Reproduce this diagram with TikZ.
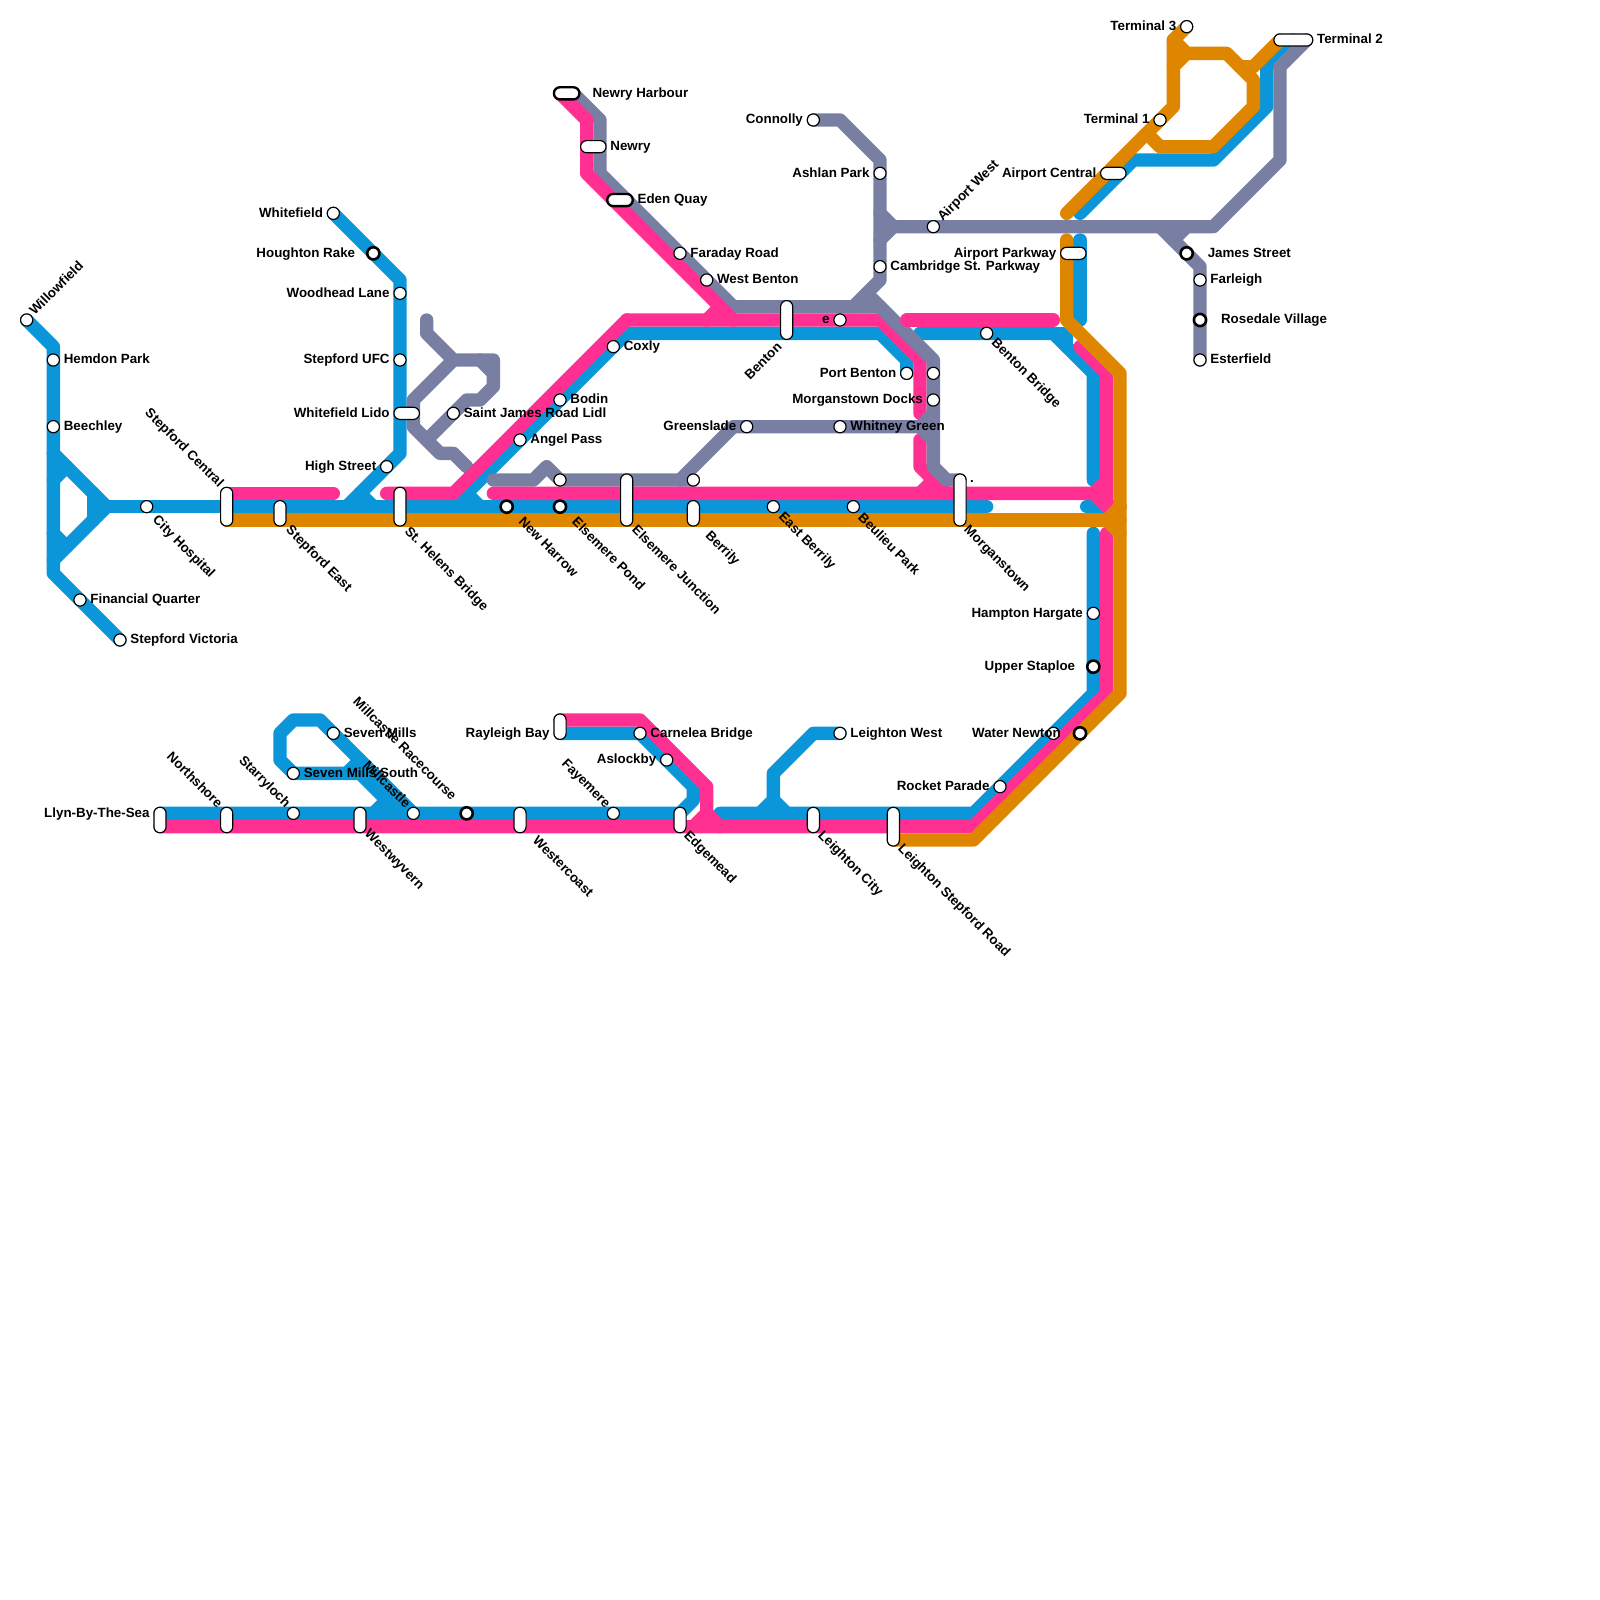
\documentclass[tikz,border=0pt]{standalone}
\usepackage{fontspec}
\setmainfont{Liberation Sans}
\usetikzlibrary{backgrounds}
\definecolor{lineblue}{HTML}{0A96D8}
\definecolor{linepink}{HTML}{FF3092}
\definecolor{linegrey}{HTML}{787FA3}
\definecolor{lineorange}{HTML}{DF8600}
\tikzset{
  railline/.style={line width=11.38pt, line cap=round, line join=round},
  blueline/.style={railline, draw=lineblue},
  pinkline/.style={railline, draw=linepink},
  greyline/.style={railline, draw=linegrey},
  orangeline/.style={railline, draw=lineorange},
  stn/.style={circle, draw, fill=white, inner sep=0pt, minimum size=10.4pt, line width=1pt},
  stnbold/.style={circle, draw, fill=white, inner sep=0pt, minimum size=10.4pt, line width=2.2pt},
  pill/.style 2 args={rectangle, draw, fill=white, rounded corners=5.1pt, inner sep=0pt, line width=1pt,
    minimum width=#1*11.38pt-1pt, minimum height=#2*11.38pt-1pt},
  pillbold/.style 2 args={pill={#1}{#2}, line width=2pt},
  lbl/.style={inner sep=0pt, text height=6.5pt, text depth=0pt, font=\bfseries\fontsize{11.4}{13}\selectfont, text=black},
  label distance=3pt,
  txtse/.style={lbl, rotate=-45, anchor=west},
  txtnw/.style={lbl, rotate=-45, anchor=east},
  txtne/.style={lbl, rotate=45, anchor=west},
  txtsw/.style={lbl, rotate=45, anchor=east}
}
\begin{document}
\begin{tikzpicture}[x=.4cm, y=-.4cm]
\useasboundingbox (0,0) rectangle (120,120);
\node[stn] (willowfield) at (2,24) {};
\node[stn, label={[lbl]right:Hemdon Park}] (hemdon) at (4,27) {};
\node[stn, label={[lbl]right:Beechley}] (beechley) at (4,32) {};
\node[stn, label={[lbl]right:Financial Quarter}] (financial) at (6,45) {};
\node[stn, label={[lbl]right:Stepford Victoria}] (stepfordvictoria) at (9,48) {};
\node[stn] (cityhospital) at (11,38) {};
\node[pill={1}{3}] (stepfordcentral) at (17,38) {};
\node[pill={1}{2}] (stepfordeast) at (21,38.5) {};
\node[pill={1}{3}] (sthelens) at (30,38) {};
\node[stn, label={[lbl]left:Whitefield}] (whitefield) at (25,16) {};
\node[stnbold, label={[lbl, label distance=9pt]left:Houghton Rake}] (houghton) at (28,19) {};
\node[stn, label={[lbl]left:Woodhead Lane}] (woodhead) at (30,22) {};
\node[stn, label={[lbl]left:Stepford UFC}] (stepfordufc) at (30,27) {};
\node[pill={2}{1}, label={[lbl]left:Whitefield Lido}] (lido) at (30.5,31) {};
\node[stn, label={[lbl]left:High Street}] (highstreet) at (29,35) {};
\node[stn, label={[lbl]right:Saint James Road Lidl}] (saintjames) at (34,31) {};
\node[stnbold] (newharrow) at (38,38) {};
\node[stnbold] (elsemerepond) at (42,38) {};
\node[stn] (elsemeretop) at (42,36) {};
\node[pill={1}{4}] (elsemerejunction) at (47,37.5) {};
\node[stn] (berrilytop) at (52,36) {};
\node[pill={1}{2}] (berrily) at (52,38.5) {};
\node[stn] (eastberrily) at (58,38) {};
\node[stn] (beulieu) at (64,38) {};
\node[pill={1}{4}] (morganstown) at (72,37.5) {};
\node[stn, label={[lbl]right:Angel Pass}] (angelpass) at (39,33) {};
\node[stn, label={[lbl]right:Bodin}] (bodin) at (42,30) {};
\node[stn, label={[lbl]right:Coxly}] (coxly) at (46,26) {};
\node[pillbold={2}{1}, label={[lbl, label distance=10pt]right:Newry Harbour}] (newryharbour) at (42.5,7) {};
\node[pill={2}{1}, label={[lbl]right:Newry}] (newry) at (44.5,11) {};
\node[pillbold={2}{1}, label={[lbl]right:Eden Quay}] (edenquay) at (46.5,15) {};
\node[stn, label={[lbl]right:Faraday Road}] (faraday) at (51,19) {};
\node[stn, label={[lbl]right:West Benton}] (westbenton) at (53,21) {};
\node[pill={1}{3}] (benton) at (59,24) {};
\node[stn, label={[lbl]left:e}] (estation) at (63,24) {};
\node[stn, label={[lbl]left:Connolly}] (connolly) at (61,9) {};
\node[stn, label={[lbl]left:Ashlan Park}] (ashlan) at (66,13) {};
\node[stn, label={[lbl]right:Cambridge St. Parkway}] (cambridge) at (66,20) {};
\node[stn] (airportwest) at (70,17) {};
\node[stn, label={[lbl]left:Port Benton}] (portbenton) at (68,28) {};
\node[stn] (greytop) at (70,28) {};
\node[stn, label={[lbl]left:Morganstown Docks}] (docks) at (70,30) {};
\node[stn, label={[lbl]left:Greenslade}] (greenslade) at (56,32) {};
\node[stn, label={[lbl]right:Whitney Green}] (whitney) at (63,32) {};
\node[stn] (bentonbridge) at (74,25) {};
\node[pill={2}{1}, label={[lbl]left:Airport Parkway}] (airportparkway) at (80.5,19) {};
\node[pill={2}{1}, label={[lbl]left:Airport Central}] (airportcentral) at (83.5,13) {};
\node[stn, label={[lbl]left:Terminal 1}] (terminalone) at (87,9) {};
\node[stn, label={[lbl]left:Terminal 3}] (terminalthree) at (89,2) {};
\node[pill={3}{1}, label={[lbl]right:Terminal 2}] (terminaltwo) at (97,3) {};
\node[stnbold, label={[lbl, label distance=11.5pt]right:James Street}] (jamesstreet) at (89,19) {};
\node[stn, label={[lbl]right:Farleigh}] (farleigh) at (90,21) {};
\node[stnbold, label={[lbl, label distance=11.5pt]right:Rosedale Village}] (rosedale) at (90,24) {};
\node[stn, label={[lbl]right:Esterfield}] (esterfield) at (90,27) {};
\node[stn, label={[lbl]left:Hampton Hargate}] (hampton) at (82,46) {};
\node[stnbold, label={[lbl, label distance=9pt]left:Upper Staploe}] (upperstaploe) at (82,50) {};
\node[stn, label={[lbl, xshift=15.2pt]left:Water Newton}] (waternewton) at (79,55) {};
\node[stnbold] (waterbold) at (81,55) {};
\node[stn, label={[lbl]left:Rocket Parade}] (rocketparade) at (75,59) {};
\node[pill={1}{2}, label={[lbl, yshift=5.7pt]left:Llyn-By-The-Sea}] (llyn) at (12,61.5) {};
\node[pill={1}{2}] (northshore) at (17,61.5) {};
\node[stn] (starryloch) at (22,61) {};
\node[pill={1}{2}] (westwyvern) at (27,61.5) {};
\node[stn] (millcastle) at (31,61) {};
\node[stnbold] (racecourse) at (35,61) {};
\node[pill={1}{2}] (westercoast) at (39,61.5) {};
\node[stn] (fayemere) at (46,61) {};
\node[pill={1}{2}] (edgemead) at (51,61.5) {};
\node[pill={1}{2}] (leightoncity) at (61,61.5) {};
\node[pill={1}{3}] (leightonstepford) at (67,62) {};
\node[stn, label={[lbl]right:Seven Mills}] (sevenmills) at (25,55) {};
\node[stn, label={[lbl]right:Seven Mills South}] (sevensouth) at (22,58) {};
\node[pill={1}{2}, label={[lbl, yshift=-5.7pt]left:Rayleigh Bay}] (rayleigh) at (42,54.5) {};
\node[stn, label={[lbl]right:Carnelea Bridge}] (carnelea) at (48,55) {};
\node[stn, label={[lbl]left:Aslockby}] (aslockby) at (50,57) {};
\node[stn, label={[lbl]right:Leighton West}] (leightonwest) at (63,55) {};
\node[txtne] (willowfieldt) at (2.4,23.5) {Willowfield};
\node[txtne] (airportwestt) at (70.5,16.45) {Airport West};
\node[txtsw] (bentont) at (58.5,25.9) {Benton};
\node[txtnw] (stepfordcentralt) at (16.6,36.4) {Stepford Central};
\node[txtnw] (northshoret) at (16.5,60.45) {Northshore};
\node[txtnw] (starrylocht) at (21.6,60.4) {Starryloch};
\node[txtnw] (millcastlet) at (30.6,60.45) {Millcastle};
\node[txtnw] (racecourset) at (34.05,59.9) {Millcastle Racecourse};
\node[txtnw] (fayemeret) at (45.6,60.45) {Fayemere};
\node[txtse] (cityhospitalt) at (11.6,38.85) {City Hospital};
\node[txtse] (stepfordeastt) at (21.6,39.6) {Stepford East};
\node[txtse] (sthelenst) at (30.5,39.7) {St. Helens Bridge};
\node[txtse] (newharrowt) at (39.05,39) {New Harrow};
\node[txtse] (elsemerepondt) at (43.05,39) {Elsemere Pond};
\node[txtse] (elsemerejunctiont) at (47.55,39.6) {Elsemere Junction};
\node[txtse] (berrilyt) at (53.05,40) {Berrily};
\node[txtse] (eastberrilyt) at (58.55,38.6) {East Berrily};
\node[txtse] (beulieut) at (64.5,38.7) {Beulieu Park};
\node[txtse] (morganstownt) at (72.45,39.6) {Morganstown};
\node[txtse] (bentonbridget) at (74.5,25.55) {Benton Bridge};
\node[txtse] (westwyvernt) at (27.5,62.4) {Westwyvern};
\node[txtse] (westercoastt) at (40.1,62.9) {Westercoast};
\node[txtse] (edgemeadt) at (51.45,62.5) {Edgemead};
\node[txtse] (leightoncityt) at (61.5,62.5) {Leighton City};
\node[txtse] (leightonstepfordt) at (67.5,63.5) {Leighton Stepford Road};
\node[lbl] (morganstowndot) at (72.9,35.9) {.};
\begin{pgfonlayer}{background}
\draw[blueline] (willowfield.center) -- (4,26) -- (4,43) -- (stepfordvictoria.center);
\draw[blueline] (4,34) -- (8,38) -- (4,42);
\draw[blueline] (4,36) -- (5,35);
\draw[blueline] (4,40) -- (5,41);
\draw[blueline] (7,37) -- (7,39);
\draw[blueline] (8,38) -- (74,38);
\draw[blueline] (81.5,38) -- (84,38);
\draw[blueline] (whitefield.center) -- (30,21) -- (30,34) -- (26,38);
\draw[blueline] (27,37) -- (28,38);
\draw[blueline] (34,38) -- (47,25) -- (66,25) -- (68,27) -- (portbenton.center);
\draw[blueline] (35,37) -- (36,38);
\draw[blueline] (69,25) -- (79,25) -- (82,28) -- (82,36);
\draw[blueline] (79,25) -- (80,25) -- (80,26);
\draw[blueline] (82,40) -- (82,52) -- (73,61) -- (54,61);
\draw[blueline] (12,61) -- (51,61) -- (52,60) -- (52,59) -- (48,55) -- (42,55);
\draw[blueline] (sevensouth.center) -- (27,58) -- (30,61);
\draw[blueline] (26,58) -- (27,57);
\draw[blueline] (28,61) -- (29,60);
\draw[blueline] (millcastle.center) -- (24,54) -- (22,54) -- (21,55) -- (21,57) -- (sevensouth.center);
\draw[blueline] (leightonwest.center) -- (61,55) -- (58,58) -- (58,60) -- (57,61);
\draw[blueline] (58,60) -- (59,61);
\draw[blueline] (81,18) -- (81,24);
\draw[blueline] (81,16) -- (85,12) -- (91,12) -- (95,8) -- (95,5) -- (terminaltwo.center);
\draw[pinkline] (47,24) -- (66,24) -- (69,27) -- (69,31);
\draw[pinkline] (69,33) -- (69,35) -- (71,37);
\draw[pinkline] (69,37) -- (70,36);
\draw[greyline] (43,7) -- (45,9) -- (45,13) -- (55,23) -- (66,23) -- (70,27) -- (70,35) -- (71,36) -- (72,36);
\draw[greyline] (connolly.center) -- (63,9) -- (66,12) -- (66,21) -- (64,23);
\draw[greyline] (65,22) -- (66,23);
\draw[greyline] (66,16) -- (67,17) -- (66,18);
\draw[greyline] (67,17) -- (91,17) -- (96,12) -- (96,5) -- (98,3);
\draw[greyline] (87,17) -- (90,20) -- (esterfield.center);
\draw[greyline] (88,18) -- (89,17);
\draw[greyline] (37,36) -- (40,36) -- (41,35) -- (42,36) -- (berrilytop.center);
\draw[greyline] (51,36) -- (55,32) -- (70,32);
\draw[greyline] (69,32) -- (70,31);
\draw[greyline] (69,32) -- (70,33);
\draw[greyline] (32,24) -- (32,25) -- (34,27) -- (37,27) -- (37,29) -- (36,30) -- (35,30) -- (32,33);
\draw[greyline] (36,27) -- (37,28);
\draw[greyline] (34,27) -- (31,30) -- (31,32) -- (33,34) -- (34,34) -- (35,35);
\draw[pinkline] (17,37) -- (25,37);
\draw[pinkline] (29,37) -- (34,37) -- (47,24);
\draw[pinkline] (53,24) -- (54,23);
\draw[pinkline] (42,7) -- (44,9) -- (44,13) -- (55,24);
\draw[pinkline] (37,37) -- (82,37) -- (83,38) -- (83,28) -- (81,26);
\draw[pinkline] (68,24) -- (79,24);
\draw[pinkline] (82,37) -- (83,36);
\draw[pinkline] (83,40) -- (83,52) -- (73,62) -- (12,62);
\draw[pinkline] (42,54) -- (48,54) -- (53,59) -- (53,61) -- (52,62);
\draw[pinkline] (53,61) -- (54,62);
\draw[orangeline] (67,63) -- (73,63) -- (84,52) -- (84,28) -- (80,24) -- (80,18);
\draw[orangeline] (17,39) -- (84,39);
\draw[orangeline] (83,39) -- (84,38);
\draw[orangeline] (83,39) -- (84,40);
\draw[orangeline] (80,16) -- (88,8) -- (88,3) -- (terminalthree.center);
\draw[orangeline] (88,3) -- (89,4) -- (92,4) -- (93,5) -- (94,6) -- (94,8) -- (91,11) -- (87,11) -- (86,10);
\draw[orangeline] (88,5) -- (89,4);
\draw[orangeline] (93,5) -- (94,5) -- (96,3);
\end{pgfonlayer}
\end{tikzpicture}
\end{document}
